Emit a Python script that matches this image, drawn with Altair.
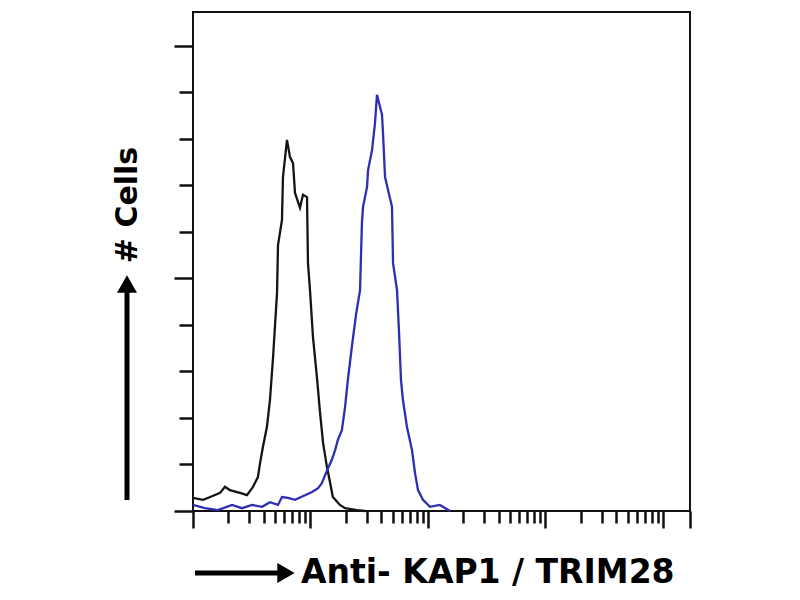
import altair as alt
import pandas as pd

# Isotype control (black): fluorescence intensity vs. # cells (axis units)
ctrl_x = [1.0, 1.22, 1.40, 1.70, 1.87, 2.06, 2.51, 2.88, 3.24, 3.57,
          3.72, 3.94, 4.26, 4.52, 4.80, 5.19, 5.29, 5.72, 5.83, 6.31,
          6.69, 7.10, 7.38, 8.14, 8.63, 9.34, 9.52, 9.90, 10.5, 11.4,
          12.0, 12.8, 13.8, 14.7, 15.5, 17.8, 19.7, 24.9, 29.1]
ctrl_y = [0.28, 0.24, 0.30, 0.39, 0.52, 0.45, 0.39, 0.34, 0.52, 0.73,
          1.03, 1.38, 1.81, 2.39, 3.30, 4.69, 5.72, 6.26, 7.18, 7.98,
          7.61, 7.48, 6.84, 6.52, 6.80, 6.75, 5.33, 4.75, 3.74, 2.82,
          2.17, 1.46, 0.95, 0.60, 0.30, 0.13, 0.06, 0.02, 0.0]

# Anti-KAP1 / TRIM28 stained (blue)
kap1_x = [1.0, 1.26, 1.63, 2.15, 2.61, 3.18, 3.87, 4.52, 5.29, 5.72,
          6.44, 7.38, 8.98, 10.3, 11.6, 12.5, 13.3, 14.1, 15.2, 16.2,
          17.1, 18.5, 19.7, 20.8, 22.6, 24.4, 26.4, 27.4, 28.0, 30.3,
          30.9, 33.4, 35.4, 36.8, 40.6, 41.4, 43.1, 45.7, 49.4, 50.4,
          54.5, 56.6, 58.9, 61.2, 66.2, 73.1, 77.5, 82.2, 90.6, 104,
          126, 134, 154]
kap1_y = [0.13, 0.06, 0.02, 0.13, 0.06, 0.13, 0.09, 0.19, 0.13, 0.30,
          0.28, 0.24, 0.34, 0.41, 0.49, 0.60, 0.77, 0.92, 1.10, 1.31,
          1.53, 1.74, 2.24, 2.82, 3.57, 4.22, 4.75, 6.19, 6.54, 6.97,
          7.33, 7.76, 8.34, 8.95, 8.52, 8.13, 7.18, 6.90, 6.54, 5.33,
          4.75, 3.89, 2.82, 2.39, 1.81, 1.31, 0.82, 0.45, 0.24, 0.09,
          0.13, 0.09, 0.0]

# Axis ticks
x_major = [1, 10, 100, 1000, 10000, 16982]
x_minor = [2, 3, 4, 5, 6, 7, 8, 9,
           20, 30, 40, 50, 60, 70, 80, 90,
           200, 300, 400, 500, 600, 700, 800, 900,
           2000, 3000, 4000, 5000, 6000, 7000, 8000, 9000]
y_major = [0, 5, 10]
y_minor = [1, 2, 3, 4, 6, 7, 8, 9]

y_title = ["# Cells"]
x_title = ["Anti- KAP1 / TRIM28"]

X_MAX = 16982
Y_MAX = 10.73

ctrl = pd.DataFrame({"intensity": ctrl_x, "cells": ctrl_y})
kap1 = pd.DataFrame({"intensity": kap1_x, "cells": kap1_y})

xscale = alt.Scale(type="log", domain=[1, X_MAX], nice=False)
yscale = alt.Scale(domain=[0, Y_MAX], nice=False, zero=True)


def axis(values, size, orient):
    return alt.Axis(values=values, tickSize=size, orient=orient, labels=False,
                    domain=False, grid=False, title=None, ticks=True,
                    tickColor="#111111", tickWidth=2.5)


control_line = alt.Chart(ctrl).mark_line(color="#141414", strokeWidth=2.3).encode(
    x=alt.X("intensity:Q", scale=xscale, axis=axis(x_major, 17, "bottom")),
    y=alt.Y("cells:Q", scale=yscale, axis=axis(y_major, 19, "left")),
)
kap1_line = alt.Chart(kap1).mark_line(color="#2e2eb4", strokeWidth=2.3).encode(
    x=alt.X("intensity:Q", scale=xscale, axis=axis(x_minor, 12, "bottom")),
    y=alt.Y("cells:Q", scale=yscale, axis=axis(y_minor, 14, "left")),
)

one = pd.DataFrame({"k": [0]})

# y-axis arrow
y_shaft = alt.Chart(one).mark_rule(color="black", strokeWidth=5).encode(
    x=alt.value(-66), y=alt.value(488), y2=alt.value(280))
y_head = alt.Chart(one).mark_point(shape="triangle-up", filled=True, size=400,
                                   color="black", opacity=1, strokeWidth=0).encode(
    x=alt.value(-66), y=alt.value(272))
# x-axis arrow
x_shaft = alt.Chart(one).mark_rule(color="black", strokeWidth=5).encode(
    x=alt.value(2), x2=alt.value(86), y=alt.value(561))
x_head = alt.Chart(one).mark_point(shape="triangle-right", filled=True, size=400,
                                   color="black", opacity=1, strokeWidth=0).encode(
    x=alt.value(93), y=alt.value(561))

y_text = alt.Chart(pd.DataFrame({"t": y_title})).mark_text(
    font="DejaVu Sans", fontWeight="bold", fontSize=30, angle=270,
    align="center", baseline="middle", color="black").encode(
    text="t:N", x=alt.value(-65), y=alt.value(193))
x_text = alt.Chart(pd.DataFrame({"t": x_title})).mark_text(
    font="DejaVu Sans", fontWeight="bold", fontSize=33,
    align="left", baseline="middle", color="black").encode(
    text="t:N", x=alt.value(108), y=alt.value(561))

chart = alt.layer(
    control_line, kap1_line, y_shaft, y_head, x_shaft, x_head, y_text, x_text
).resolve_axis(x="independent", y="independent").properties(
    width=497, height=499,
    autosize=alt.AutoSizeParams(type="none"),
    padding={"left": 185, "top": 4, "right": 95, "bottom": 80},
    background="white",
).configure_view(stroke="#111111", strokeWidth=2)

chart.save("out.html", embed_options={"renderer": "svg", "actions": False})
